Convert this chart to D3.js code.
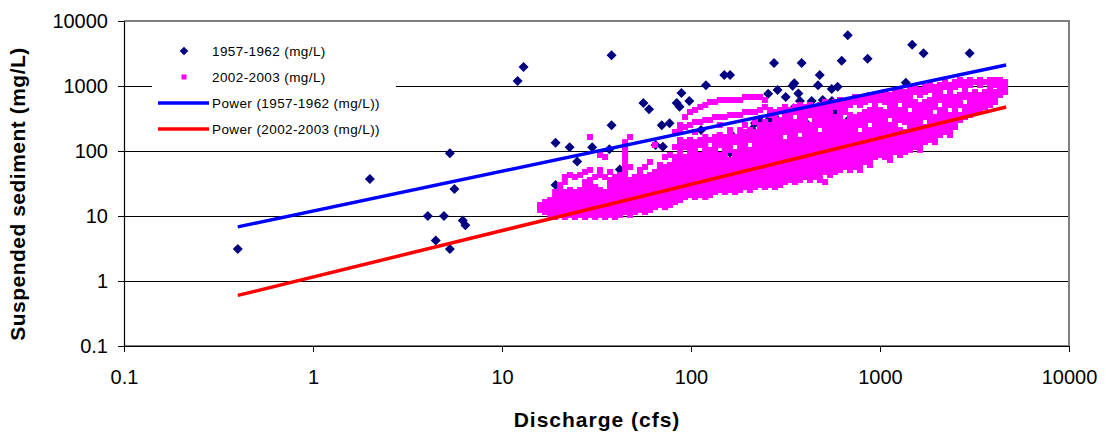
<!DOCTYPE html>
<html>
<head>
<meta charset="utf-8">
<script src="https://cdn.jsdelivr.net/npm/d3@7"></script>
<style>
  body { margin: 0; background: #fff; }
  text { font-family: "Liberation Sans", Arial, sans-serif; }
</style>
</head>
<body>
<div class="svg-content"></div>
<script>
// axis ticks (log decades)
const tickValues = [0.1, 1, 10, 100, 1000, 10000];

// 1957-1962 samples: discharge (cfs) and suspended sediment (mg/L)
const flow1957 = [0.4, 2.0, 4.05, 4.46, 4.93, 5.3, 5.3, 5.6, 6.2, 6.4,
  12.1, 13, 19.2, 19.2, 22.8, 25, 30, 37, 38, 38, 42, 56, 60, 65, 70, 71, 77, 79,
  84, 87, 89, 98, 113, 120, 143, 150, 161, 161, 164, 210, 218, 230, 256, 262, 275,
  276, 287, 317, 345, 349, 352, 370, 377, 385, 385, 416, 435, 465, 470, 480, 498,
  555, 557, 578, 585, 597, 627, 675, 680, 860, 945, 960, 1240, 1370, 1480, 1700, 2980];
const sed1957 = [3.1, 37, 10, 4.2, 10, 92, 3.1, 26, 8.5, 7.2,
  1190, 1960, 134, 30, 114, 69, 114, 106, 2970, 250, 52, 550, 440, 124, 250, 116, 267, 17,
  550, 480, 780, 590, 210, 1030, 166, 1480, 1480, 94, 176, 215, 267, 300, 760, 315, 2260,
  340, 865, 680, 1010, 455, 1100, 770, 590, 2260, 267, 251, 590, 283, 1030, 1480, 610,
  900, 590, 403, 428, 975, 2450, 6030, 300, 2630, 430, 400, 730, 1120, 4320, 3180, 3180];

// 2002-2003 samples: [discharge, [sediment readings at that discharge]]
const obs2002 = [
  [15.9, [14.8, 12.4]],
  [16.9, [16.4, 13.7, 11.5]],
  [18.0, [17.6, 14.8, 12.4, 10.4]],
  [19.1, [23.4, 19.6, 16.4, 13.7, 11.5, 9.65]],
  [20.3, [30, 25.1, 21, 17.6, 14.8, 12.4, 10.4]],
  [21.5, [39.8, 33.3, 23.4, 19.6, 16.4, 13.7, 11.5, 9.65]],
  [22.9, [42.7, 25.1, 21, 17.6, 14.8, 12.4, 10.4]],
  [24.3, [39.8, 23.4, 19.6, 16.4, 13.7, 11.5, 9.65]],
  [25.9, [42.7, 25.1, 21, 17.6, 14.8, 12.4, 10.4]],
  [27.5, [47.6, 33.3, 27.9, 23.4, 19.6, 16.4, 13.7, 11.5, 9.65]],
  [29.2, [164, 51, 35.8, 30, 25.1, 21, 17.6, 14.8, 12.4, 10.4]],
  [31.1, [39.8, 27.9, 23.4, 19.6, 16.4, 13.7, 11.5, 9.65]],
  [33.0, [86.8, 51, 42.7, 25.1, 21, 17.6, 14.8, 12.4, 10.4]],
  [35.1, [80.9, 39.8, 23.4, 19.6, 16.4, 13.7, 11.5, 9.65]],
  [37.3, [47.6, 35.8, 30, 25.1, 21, 17.6, 14.8, 12.4, 10.4]],
  [39.6, [39.8, 33.3, 27.9, 23.4, 19.6, 16.4, 13.7, 11.5, 9.65]],
  [42.1, [42.7, 35.8, 30, 25.1, 21, 17.6, 14.8, 12.4, 10.4]],
  [44.8, [137, 115, 96.5, 80.9, 67.8, 56.8, 47.6, 39.8, 33.3, 27.9, 23.4, 19.6, 16.4, 13.7, 11.5]],
  [47.6, [164, 56.8, 35.8, 30, 25.1, 21, 17.6, 14.8, 12.4, 10.4]],
  [50.5, [39.8, 33.3, 27.9, 23.4, 19.6, 16.4, 13.7, 11.5]],
  [53.7, [51, 42.7, 35.8, 30, 25.1, 21, 17.6, 14.8, 12.4]],
  [57.1, [56.8, 39.8, 33.3, 27.9, 23.4, 19.6, 16.4, 13.7, 11.5]],
  [60.7, [67.8, 42.7, 35.8, 30, 25.1, 21, 17.6, 14.8, 12.4]],
  [64.5, [124, 47.6, 39.8, 33.3, 27.9, 23.4, 19.6, 16.4, 13.7]],
  [68.5, [60.9, 51, 42.7, 35.8, 30, 25.1, 21, 17.6, 14.8]],
  [72.9, [80.9, 56.8, 47.6, 39.8, 33.3, 27.9, 23.4, 19.6, 16.4, 13.7]],
  [77.4, [86.8, 60.9, 51, 42.7, 35.8, 30, 25.1, 21, 17.6, 14.8]],
  [82.3, [196, 115, 80.9, 67.8, 56.8, 47.6, 39.8, 33.3, 27.9, 23.4, 19.6, 16.4]],
  [87.5, [251, 210, 148, 124, 104, 86.8, 72.7, 60.9, 51, 42.7, 35.8, 30, 25.1, 21, 17.6]],
  [93.0, [333, 234, 137, 115, 80.9, 67.8, 56.8, 47.6, 39.8, 33.3, 27.9, 23.4, 19.6]],
  [98.8, [398, 251, 148, 124, 104, 86.8, 72.7, 60.9, 51, 42.7, 35.8, 30, 25.1, 21]],
  [105, [427, 279, 196, 137, 115, 96.5, 80.9, 67.8, 56.8, 47.6, 39.8, 33.3, 27.9, 23.4, 19.6]],
  [112, [476, 279, 148, 124, 86.8, 72.7, 60.9, 51, 42.7, 35.8, 30, 25.1, 21]],
  [119, [510, 300, 164, 137, 115, 96.5, 80.9, 67.8, 56.8, 47.6, 39.8, 33.3, 27.9, 23.4, 19.6]],
  [126, [568, 300, 148, 104, 86.8, 72.7, 60.9, 51, 42.7, 35.8, 30, 25.1, 21]],
  [134, [568, 333, 164, 137, 115, 96.5, 80.9, 67.8, 56.8, 47.6, 39.8, 33.3, 27.9, 23.4]],
  [142, [609, 333, 251, 176, 148, 124, 86.8, 72.7, 60.9, 51, 42.7, 35.8, 30, 25.1]],
  [151, [609, 333, 164, 137, 115, 96.5, 80.9, 67.8, 56.8, 47.6, 39.8, 33.3, 27.9, 23.4]],
  [161, [609, 358, 210, 176, 148, 124, 104, 72.7, 60.9, 51, 42.7, 35.8, 30, 25.1]],
  [171, [609, 358, 164, 137, 96.5, 80.9, 67.8, 56.8, 47.6, 39.8, 33.3, 27.9, 23.4]],
  [182, [609, 358, 210, 176, 148, 124, 104, 86.8, 72.7, 60.9, 51, 42.7, 35.8, 30, 25.1]],
  [193, [678, 398, 251, 196, 164, 137, 115, 96.5, 80.9, 67.8, 56.8, 47.6, 39.8, 33.3, 27.9]],
  [205, [678, 398, 210, 176, 148, 104, 86.8, 72.7, 60.9, 51, 42.7, 35.8, 30, 25.1]],
  [218, [678, 398, 279, 196, 164, 137, 115, 96.5, 80.9, 67.8, 56.8, 47.6, 39.8, 33.3, 27.9]],
  [232, [678, 427, 251, 210, 176, 148, 124, 104, 86.8, 72.7, 60.9, 51, 42.7, 35.8, 30]],
  [246, [609, 476, 279, 234, 196, 164, 137, 115, 96.5, 80.9, 67.8, 56.8, 47.6, 39.8, 33.3, 27.9]],
  [262, [427, 358, 251, 210, 176, 148, 124, 104, 86.8, 72.7, 60.9, 51, 42.7, 35.8, 30]],
  [278, [398, 333, 279, 234, 196, 164, 137, 115, 96.5, 80.9, 67.8, 56.8, 47.6, 39.8, 33.3, 27.9]],
  [296, [427, 300, 251, 210, 176, 148, 124, 104, 86.8, 72.7, 60.9, 51, 42.7, 35.8, 30]],
  [314, [476, 398, 333, 279, 234, 196, 137, 115, 96.5, 80.9, 67.8, 56.8, 47.6, 39.8, 33.3]],
  [334, [427, 358, 300, 251, 210, 176, 148, 124, 104, 86.8, 72.7, 60.9, 51, 42.7, 35.8]],
  [355, [476, 398, 279, 234, 196, 164, 137, 115, 96.5, 80.9, 67.8, 56.8, 47.6, 39.8, 33.3]],
  [377, [510, 427, 358, 300, 251, 210, 148, 124, 104, 86.8, 72.7, 60.9, 51, 42.7, 35.8]],
  [401, [476, 398, 333, 279, 234, 196, 164, 137, 115, 96.5, 80.9, 67.8, 56.8, 47.6, 39.8]],
  [426, [510, 427, 358, 251, 210, 176, 148, 124, 104, 86.8, 72.7, 60.9, 51, 42.7, 35.8]],
  [453, [476, 398, 333, 279, 234, 196, 164, 137, 115, 96.5, 80.9, 67.8, 56.8, 47.6, 39.8]],
  [481, [510, 427, 358, 300, 251, 176, 148, 124, 104, 86.8, 72.7, 60.9, 51, 42.7, 35.8]],
  [512, [568, 476, 398, 333, 279, 234, 196, 164, 137, 115, 96.5, 80.9, 67.8, 56.8, 47.6, 33.3]],
  [544, [510, 427, 358, 300, 251, 210, 176, 148, 124, 104, 86.8, 72.7, 60.9, 51, 42.7]],
  [578, [568, 476, 333, 279, 234, 196, 164, 137, 115, 96.5, 80.9, 67.8, 56.8, 47.6]],
  [614, [609, 510, 427, 358, 300, 251, 210, 176, 148, 124, 104, 86.8, 72.7, 60.9, 51]],
  [653, [568, 476, 398, 279, 234, 196, 164, 137, 115, 96.5, 80.9, 67.8, 56.8]],
  [694, [609, 510, 358, 300, 251, 210, 176, 148, 124, 104, 86.8, 72.7, 60.9, 51]],
  [738, [678, 568, 333, 279, 234, 196, 164, 137, 115, 96.5, 80.9, 67.8, 56.8]],
  [784, [609, 510, 358, 300, 251, 176, 148, 124, 104, 86.8, 72.7, 60.9, 51]],
  [833, [678, 568, 398, 333, 279, 234, 196, 164, 137, 115, 96.5, 80.9, 67.8]],
  [885, [727, 609, 427, 358, 300, 210, 176, 148, 124, 104, 86.8, 72.7, 60.9]],
  [941, [678, 568, 476, 398, 333, 279, 234, 196, 164, 137, 115, 96.5, 80.9]],
  [1000, [727, 609, 427, 358, 300, 251, 210, 176, 148, 124, 104, 86.8]],
  [1063, [809, 678, 568, 398, 333, 279, 234, 196, 164, 137, 115, 96.5, 80.9]],
  [1130, [727, 609, 510, 427, 358, 251, 210, 176, 148, 124, 104, 86.8, 72.7]],
  [1200, [809, 678, 568, 476, 398, 333, 279, 234, 196, 164, 137, 115, 96.5]],
  [1276, [868, 727, 609, 427, 358, 300, 210, 176, 148, 124, 104, 86.8]],
  [1356, [809, 678, 568, 476, 398, 333, 279, 196, 164, 137, 115, 96.5]],
  [1441, [868, 727, 609, 510, 358, 300, 251, 210, 176, 148, 124, 104]],
  [1532, [966, 809, 568, 476, 398, 333, 279, 234, 196, 164, 137, 115]],
  [1628, [868, 727, 510, 427, 358, 300, 251, 210, 176, 148, 124, 104]],
  [1730, [966, 809, 568, 476, 398, 333, 234, 196, 164, 137]],
  [1839, [1036, 868, 609, 510, 427, 358, 300, 251, 210, 176, 148]],
  [1954, [966, 809, 678, 568, 476, 333, 279, 234, 196, 164, 137]],
  [2077, [1036, 868, 727, 609, 427, 358, 300, 251, 210, 176]],
  [2208, [1152, 966, 678, 568, 476, 398, 333, 279, 234, 196]],
  [2346, [1036, 868, 727, 609, 510, 358, 300, 251, 210, 176]],
  [2494, [1152, 966, 678, 568, 476, 398, 333, 279, 234]],
  [2650, [1237, 1036, 727, 609, 510, 358, 300]],
  [2817, [1152, 966, 809, 678, 476, 398, 333]],
  [2994, [1237, 1036, 727, 609, 510, 427, 358]],
  [3182, [1152, 809, 678, 568, 476, 398]],
  [3381, [1237, 1036, 727, 609, 510, 427]],
  [3594, [1152, 809, 678, 568, 476]],
  [3819, [1237, 1036, 868, 727, 609, 510]],
  [4059, [1237, 1036, 809, 678, 568]],
  [4314, [1237, 1036, 868, 727]],
  [4585, [1152, 966, 809]]
];

// power trend lines (straight on log-log), read at their two ends
const trend1957 = [[0.4, 6.8], [4650, 2100]];
const trend2002 = [[0.4, 0.6], [4650, 475]];

const legendLabels = ["1957-1962 (mg/L)", "2002-2003 (mg/L)",
  "Power (1957-1962 (mg/L))", "Power (2002-2003 (mg/L))"];

const svgWidth = 1106;
const svgHeight = 432;
const plotLeft = 124, plotRight = 1069, plotTop = 21, plotBottom = 346;

const xScale = d3.scaleLog().domain([0.1, 10000]).range([plotLeft, plotRight]);
const yScale = d3.scaleLog().domain([0.1, 10000]).range([plotBottom, plotTop]);

const svg = d3.select(".svg-content")
              .append("svg")
              .attr("width", svgWidth)
              .attr("height", svgHeight)
              .style("display", "block");

// gridlines
svg.append("g")
   .selectAll("line")
   .data(tickValues.slice(1, -1))
   .enter()
   .append("line")
   .attr("x1", plotLeft)
   .attr("x2", plotRight)
   .attr("y1", d => yScale(d))
   .attr("y2", d => yScale(d))
   .attr("stroke", "#000")
   .attr("stroke-width", 1)
   .attr("shape-rendering", "crispEdges");

// 1957-1962 diamonds
const diamond = d3.symbol().type(d3.symbolSquare).size(50);
svg.append("g")
   .selectAll("path")
   .data(flow1957.map((q, i) => [q, sed1957[i]]))
   .enter()
   .append("path")
   .attr("d", diamond)
   .attr("transform", d => "translate(" + xScale(d[0]) + "," + yScale(d[1]) + ") rotate(45)")
   .attr("fill", "#000080");

// 2002-2003 squares
const points2002 = obs2002.flatMap(item => item[1].map(c => [item[0], c]));
svg.append("g")
   .selectAll("rect")
   .data(points2002)
   .enter()
   .append("rect")
   .attr("x", d => xScale(d[0]) - 3)
   .attr("y", d => yScale(d[1]) - 3)
   .attr("width", 6)
   .attr("height", 6)
   .attr("fill", "#ff00ff");

// trend lines
const line = d3.line().x(d => xScale(d[0])).y(d => yScale(d[1]));
svg.append("path")
   .datum(trend1957)
   .attr("d", line)
   .attr("fill", "none")
   .attr("stroke", "#0000ff")
   .attr("stroke-width", 3.5);
svg.append("path")
   .datum(trend2002)
   .attr("d", line)
   .attr("fill", "none")
   .attr("stroke", "#ff0000")
   .attr("stroke-width", 3.5);

// plot frame (top/right/bottom grey)
svg.append("path")
   .attr("d", "M" + plotLeft + "," + plotTop + "H" + plotRight + "V" + plotBottom + "H" + plotLeft)
   .attr("fill", "none")
   .attr("stroke", "#808080")
   .attr("stroke-width", 2);

// axes
const fmt = d => String(d);
const xAxis = d3.axisBottom(xScale).tickValues(tickValues).tickFormat(fmt)
                .tickSize(6).tickSizeOuter(0).tickPadding(18);
const yAxis = d3.axisLeft(yScale).tickValues(tickValues).tickFormat(fmt)
                .tickSize(6).tickSizeOuter(0).tickPadding(10);

const gx = svg.append("g")
              .attr("transform", "translate(0," + plotBottom + ")")
              .call(xAxis);
const gy = svg.append("g")
              .attr("transform", "translate(" + plotLeft + ",0)")
              .call(yAxis);

[gx, gy].forEach(g => {
  g.select(".domain").attr("stroke", "#000").attr("stroke-width", 1.2);
  g.selectAll(".tick line").attr("stroke", "#000");
  g.selectAll(".tick text")
   .attr("fill", "#000")
   .style("font-size", "20px")
   .style("font-family", "'Liberation Sans', Arial, sans-serif");
});

// axis titles
svg.append("text")
   .attr("x", 597)
   .attr("y", 427)
   .attr("text-anchor", "middle")
   .style("font-size", "21px")
   .style("font-weight", "bold")
   .style("letter-spacing", "1px")
   .text("Discharge (cfs)");

svg.append("text")
   .attr("transform", "translate(25,194) rotate(-90)")
   .attr("text-anchor", "middle")
   .style("font-size", "21px")
   .style("font-weight", "bold")
   .style("letter-spacing", "0.5px")
   .text("Suspended sediment (mg/L)");

// legend
const legend = svg.append("g");
legend.append("rect")
      .attr("x", 152).attr("y", 36)
      .attr("width", 244).attr("height", 106)
      .attr("fill", "#fff");

const rowY = [51, 77, 103, 129];

legend.append("path")
      .attr("d", d3.symbol().type(d3.symbolSquare).size(38))
      .attr("transform", "translate(184," + rowY[0] + ") rotate(45)")
      .attr("fill", "#000080");
legend.append("rect")
      .attr("x", 181.5).attr("y", rowY[1] - 2.5)
      .attr("width", 5).attr("height", 5)
      .attr("fill", "#ff00ff");
legend.append("line")
      .attr("x1", 158).attr("x2", 209)
      .attr("y1", rowY[2]).attr("y2", rowY[2])
      .attr("stroke", "#0000ff").attr("stroke-width", 3.5);
legend.append("line")
      .attr("x1", 158).attr("x2", 209)
      .attr("y1", rowY[3]).attr("y2", rowY[3])
      .attr("stroke", "#ff0000").attr("stroke-width", 3.5);

legend.selectAll("text.item")
      .data(legendLabels)
      .enter()
      .append("text")
      .attr("class", "item")
      .attr("x", 212)
      .attr("y", (d, i) => rowY[i] + 5)
      .style("font-size", "13.5px")
      .style("letter-spacing", "0.4px")
      .text(d => d);
</script>
</body>
</html>
